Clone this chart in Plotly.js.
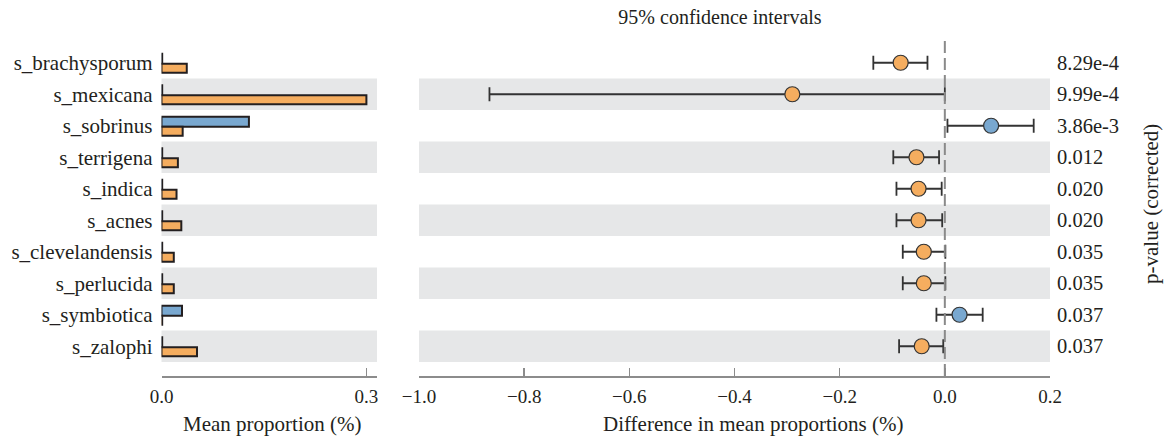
<!DOCTYPE html>
<html><head><meta charset="utf-8">
<script src="https://cdn.plot.ly/plotly-3.0.1.min.js"></script>
<style>html,body{margin:0;padding:0;background:#fff}#chart{width:1165px;height:443px}</style>
</head><body><div id="chart"></div>
<script>
const species = ['s_brachysporum','s_mexicana','s_sobrinus','s_terrigena','s_indica','s_acnes','s_clevelandensis','s_perlucida','s_symbiotica','s_zalophi'];
const meanOrange = [0.037,0.300,0.031,0.024,0.022,0.029,0.018,0.018,0.001,0.052];
const meanBlue   = [0.001,0.001,0.128,0.001,0.001,0.001,0.001,0.001,0.030,0.001];
const diff   = [-0.084,-0.290,0.088,-0.054,-0.050,-0.050,-0.040,-0.040,0.028,-0.044];
const ciLow  = [-0.136,-0.866,0.005,-0.098,-0.092,-0.092,-0.080,-0.080,-0.016,-0.087];
const ciHigh = [-0.033,0.000,0.169,-0.011,-0.006,-0.005,0.001,0.001,0.072,-0.003];
const pValues = ['8.29e-4','9.99e-4','3.86e-3','0.012','0.020','0.020','0.035','0.035','0.037','0.037'];
const leftTicks = [0.0, 0.3];
const leftTickText = ['0.0','0.3'];
const diffTicks = [-1.0,-0.8,-0.6,-0.4,-0.2,0.0,0.2];
const diffTickText = ['\u22121.0','\u22120.8','\u22120.6','\u22120.4','\u22120.2','0.0','0.2'];

const ORANGE = '#F5AD5F', BLUE = '#79A8D0', DARK = '#231F20', AXIS = '#8C8C8C', BAND = '#E6E7E8';
const FONT = 'Liberation Serif, Times New Roman, serif';
const W = 1165, H = 443;
const rows = species.map((_, i) => i);
const yTop = 47, yBot = 376, rowH = 31.5;
const yRange = [-0.5 + (yBot - yTop) / rowH, -0.5];

const traces = [
  {type:'bar', orientation:'h', x: meanBlue, y: rows, xaxis:'x', yaxis:'y',
   offset:-0.285, width:0.315,
   marker:{color:BLUE, line:{color:DARK, width:2}}, hoverinfo:'skip'},
  {type:'bar', orientation:'h', x: meanOrange, y: rows, xaxis:'x', yaxis:'y',
   offset:0.03, width:0.29,
   marker:{color:ORANGE, line:{color:DARK, width:2}}, hoverinfo:'skip'},
  {type:'scatter', mode:'markers', x: diff, y: rows, xaxis:'x2', yaxis:'y2',
   error_x:{type:'data', symmetric:false,
     array: diff.map((d, i) => ciHigh[i] - d),
     arrayminus: diff.map((d, i) => d - ciLow[i]),
     color:'#333333', thickness:1.8, width:7},
   marker:{size:15, color: diff.map(d => d < 0 ? ORANGE : BLUE), line:{color:'#333333', width:1.2}},
   hoverinfo:'skip'}
];

const shapes = [];
rows.forEach(i => {
  if (i % 2 === 1) {
    shapes.push({type:'rect', layer:'below', xref:'x domain', yref:'y', x0:0, x1:1, y0:i-0.5, y1:i+0.5, fillcolor:BAND, line:{width:0}});
    shapes.push({type:'rect', layer:'below', xref:'x2 domain', yref:'y', x0:0, x1:1, y0:i-0.5, y1:i+0.5, fillcolor:BAND, line:{width:0}});
  }
});
shapes.push({type:'line', layer:'above', xref:'x2', yref:'paper', x0:0, x1:0, y0:1-376/H, y1:1-40/H, line:{color:'#8A8A8A', width:2, dash:'12px,5px'}});

const layout = {
  width: W, height: H, margin:{l:0, r:0, t:0, b:0},
  paper_bgcolor:'#fff', plot_bgcolor:'rgba(0,0,0,0)',
  showlegend:false, barmode:'overlay',
  font:{family:FONT, color:DARK, size:20},
  title:{text:'95% confidence intervals', x:720/W, xanchor:'center', y:1-17/H, yanchor:'middle', font:{family:FONT, size:20, color:DARK}},
  xaxis:{domain:[161.5/W, 377/W], range:[0, (377-161.5)/683], anchor:'y',
    tickvals:leftTicks, ticktext:leftTickText, ticks:'inside', ticklen:8, tickcolor:AXIS, tickwidth:1.5,
    showline:true, linecolor:AXIS, linewidth:2, showgrid:false, zeroline:false,
    tickfont:{family:FONT, size:19, color:DARK}, ticklabelstandoff:2},
  xaxis2:{domain:[419/W, 1050/W], range:[-1.0, 0.2], anchor:'y2',
    tickvals:diffTicks, ticktext:diffTickText, ticks:'inside', ticklen:8, tickcolor:AXIS, tickwidth:1.5,
    showline:true, linecolor:AXIS, linewidth:2, showgrid:false, zeroline:false,
    tickfont:{family:FONT, size:19, color:DARK}, ticklabelstandoff:2},
  yaxis:{domain:[1-yBot/H, 1-yTop/H], range:yRange, anchor:'x',
    tickvals:rows, ticktext:species, ticks:'', showline:false, showgrid:false, zeroline:false,
    tickfont:{family:FONT, size:21, color:DARK}, ticklabelstandoff:8},
  yaxis2:{domain:[1-yBot/H, 1-yTop/H], range:yRange, anchor:'x2', side:'right',
    tickvals:rows, ticktext:pValues, ticks:'', showline:false, showgrid:false, zeroline:false,
    tickfont:{family:FONT, size:20.5, color:DARK}, ticklabelstandoff:6},
  shapes: shapes,
  annotations:[
    {text:'Mean proportion (%)', xref:'paper', yref:'paper', x:272/W, y:1-424/H, xanchor:'center', yanchor:'middle', showarrow:false, font:{family:FONT, size:21, color:DARK}},
    {text:'Difference in mean proportions (%)', xref:'paper', yref:'paper', x:753/W, y:1-424/H, xanchor:'center', yanchor:'middle', showarrow:false, font:{family:FONT, size:21, color:DARK}},
    {text:'p-value (corrected)', xref:'paper', yref:'paper', x:1151/W, y:1-204/H, xanchor:'center', yanchor:'middle', textangle:-90, showarrow:false, font:{family:FONT, size:21, color:DARK}}
  ]
};

Plotly.newPlot('chart', traces, layout, {displayModeBar:false, staticPlot:true});
</script></body></html>
